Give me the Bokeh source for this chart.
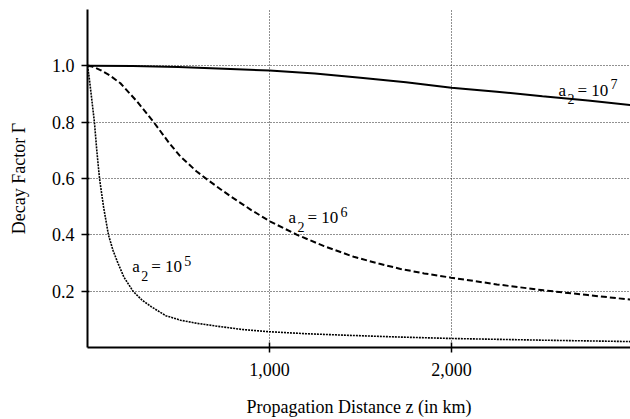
from bokeh.plotting import figure
from bokeh.models import FixedTicker, Range1d, ColumnDataSource
from bokeh.core.properties import value
from bokeh.embed import file_html
from bokeh.resources import INLINE

# ---- data ----
# a2 = 10^7 (solid)
z_a7 = [0, 250, 500, 750, 1000, 1250, 1500, 1750, 2000, 2250, 2500, 2750, 2984]
g_a7 = [1.0, 0.999, 0.996, 0.990, 0.983, 0.973, 0.958, 0.942, 0.922, 0.908, 0.892, 0.877, 0.861]

# a2 = 10^6 (dashed)
z_a6 = [0, 25, 71, 125, 181, 270, 364, 450, 511, 600, 667, 731, 786, 900, 1002, 1152,
        1300, 1463, 1600, 1720, 1850, 1998, 2250, 2507, 2750, 2984]
g_a6 = [1.0, 0.998, 0.985, 0.965, 0.938, 0.875, 0.80, 0.725, 0.678, 0.625, 0.592, 0.562,
        0.537, 0.488, 0.448, 0.40, 0.36, 0.322, 0.298, 0.279, 0.263, 0.248, 0.224, 0.203,
        0.186, 0.170]

# a2 = 10^5 (dotted)
z_a5 = [0, 8, 20, 38, 51, 66, 88, 115, 140, 167, 200, 250, 300, 350, 430, 511, 600, 731,
        850, 1000, 1200, 1400, 1720, 2000, 2500, 2984]
g_a5 = [1.0, 0.965, 0.90, 0.80, 0.70, 0.60, 0.50, 0.40, 0.345, 0.30, 0.25, 0.20, 0.168,
        0.145, 0.113, 0.097, 0.086, 0.074, 0.064, 0.056, 0.049, 0.044, 0.037, 0.032, 0.026,
        0.021]

x_ticks = [1000, 2000]
x_tick_labels = ["1,000", "2,000"]
y_ticks = [0.2, 0.4, 0.6, 0.8, 1.0]
y_tick_labels = ["0.2", "0.4", "0.6", "0.8", "1.0"]

# curve labels: anchor (left of "a", baseline) and exponent
label_x = [2588, 1104, 246]
label_y = [0.914, 0.461, 0.287]
label_exp = ["7", "6", "5"]

FONT = "Liberation Serif"

p = figure(width=630, height=419,
           x_range=Range1d(0, 2984), y_range=Range1d(0, 1.2),
           output_backend="svg", toolbar_location=None,
           min_border_left=87, min_border_right=0,
           min_border_top=9, min_border_bottom=69)
p.outline_line_color = None
p.background_fill_color = "white"
p.border_fill_color = "white"

# grid
p.xgrid.ticker = FixedTicker(ticks=x_ticks)
p.ygrid.ticker = FixedTicker(ticks=y_ticks)
p.grid.grid_line_color = "#222222"
p.grid.grid_line_dash = "1 2"
p.grid.grid_line_width = 1

# axes
p.xaxis.ticker = FixedTicker(ticks=x_ticks)
p.yaxis.ticker = FixedTicker(ticks=y_ticks)
p.xaxis.major_label_overrides = dict(zip(x_ticks, x_tick_labels))
p.yaxis.major_label_overrides = dict(zip(y_ticks, y_tick_labels))
p.axis.axis_line_width = 2
p.axis.axis_line_color = "black"
p.axis.major_tick_line_width = 1.5
p.axis.major_tick_line_color = "black"
p.axis.minor_tick_line_color = None
p.xaxis.major_tick_in = 5
p.xaxis.major_tick_out = 5
p.yaxis.major_tick_in = 2
p.yaxis.major_tick_out = 6
p.xaxis.major_label_standoff = 10
p.yaxis.major_label_standoff = 7
p.axis.major_label_text_font = FONT
p.axis.major_label_text_font_size = "18px"
p.axis.major_label_text_color = "black"
p.axis.axis_label_text_font = FONT
p.axis.axis_label_text_font_size = "18px"
p.axis.axis_label_text_font_style = "normal"
p.axis.axis_label_text_color = "black"
p.xaxis.axis_label = "Propagation Distance z (in km)"
p.yaxis.axis_label = "Decay Factor \u0393"
p.xaxis.axis_label_standoff = 18
p.yaxis.axis_label_standoff = 20

# curves
p.line(z_a7, g_a7, line_color="black", line_width=2)
p.line(z_a6, g_a6, line_color="black", line_width=2, line_dash="6 3")
p.line(z_a5, g_a5, line_color="black", line_width=1.6, line_dash="2 1")

# curve labels "a2 = 10^n" built from pieces
src = ColumnDataSource(dict(x=label_x, y=label_y, exp=label_exp,
                            a=["a"] * 3, sub=["2"] * 3, eq=["= 10"] * 3))
common = dict(x="x", y="y", source=src, text_font=value(FONT),
              text_color="black", text_align="left", text_baseline="alphabetic")
p.text(text="a", x_offset=0, y_offset=0, text_font_size="17px", **common)
p.text(text="sub", x_offset=9, y_offset=9, text_font_size="14px", **common)
p.text(text="eq", x_offset=19, y_offset=0, text_font_size="17px", **common)
p.text(text="exp", x_offset=52, y_offset=-6, text_font_size="14px", **common)

open("out.html", "w").write(file_html(p, INLINE))
